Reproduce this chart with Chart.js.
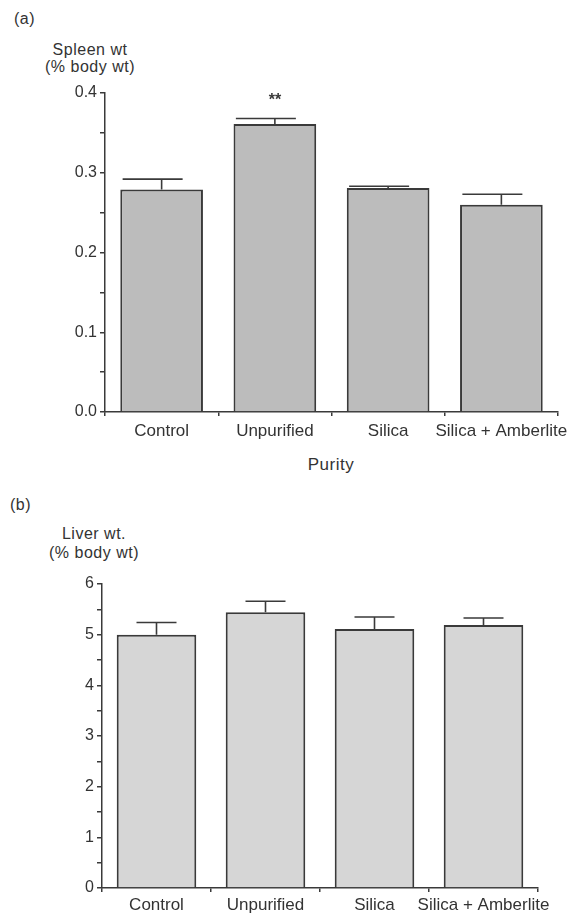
<!DOCTYPE html>
<html lang="en">
<head>
    <meta charset="UTF-8">
    <title>Spleen and liver weight by purity</title>
    <script src="https://cdn.jsdelivr.net/npm/chart.js"></script>
    <style>
        body {
            margin: 0;
            width: 588px;
            height: 915px;
            background: #fff;
            font-family: "Liberation Sans", Arial, sans-serif;
            color: #333;
            position: relative;
            overflow: hidden;
        }
        .lbl { position: absolute; font-size: 16px; line-height: 17px; letter-spacing: 0.5px; text-align: center; white-space: nowrap; }
        .box { position: absolute; left: 0; width: 588px; }
    </style>
</head>
<body>
    <div class="lbl" style="left:14px; top:10px;">(a)</div>
    <div class="lbl" style="left:30px; top:41px; width:120px;">Spleen wt<br>(% body wt)</div>
    <div class="box" style="top:80px; height:360px;"><canvas id="spleenChart"></canvas></div>
    <div class="lbl" style="left:271px; top:456px; width:120px; font-size:17px;">Purity</div>

    <div class="lbl" style="left:10px; top:496px;">(b)</div>
    <div class="lbl" style="left:34px; top:524px; width:120px; line-height:19px;">Liver wt.<br>(% body wt)</div>
    <div class="box" style="top:570px; height:345px;"><canvas id="liverChart"></canvas></div>

    <script>
        const categories = ['Control', 'Unpurified', 'Silica', 'Silica + Amberlite'];
        const spleenValues = [0.279, 0.361, 0.281, 0.260];
        const spleenSem = [0.013, 0.007, 0.002, 0.013];
        const spleenMarks = ['', '**', '', ''];
        const spleenTicks = [0.0, 0.1, 0.2, 0.3, 0.4];
        const liverValues = [5.00, 5.44, 5.11, 5.19];
        const liverSem = [0.24, 0.22, 0.24, 0.14];
        const liverTicks = [0, 1, 2, 3, 4, 5, 6];

        const ink = '#3a3a3a';
        const family = '"Liberation Sans", Arial, sans-serif';

        // draws the SEM whiskers and significance marks from the chart's own scales
        const errorBars = {
            id: 'errorBars',
            afterDatasetsDraw(chart, args, opts) {
                const ctx = chart.ctx;
                const y = chart.scales.y;
                const meta = chart.getDatasetMeta(0);
                ctx.save();
                ctx.strokeStyle = ink;
                ctx.lineWidth = 1.6;
                meta.data.forEach((bar, i) => {
                    const top = y.getPixelForValue(opts.values[i] + opts.sem[i]);
                    const cx = bar.x + opts.capShift;
                    ctx.beginPath();
                    ctx.moveTo(bar.x, bar.y);
                    ctx.lineTo(bar.x, top);
                    ctx.moveTo(cx - opts.capWidth / 2, top);
                    ctx.lineTo(cx + opts.capWidth / 2, top);
                    ctx.stroke();
                    if (opts.marks && opts.marks[i]) {
                        ctx.fillStyle = ink;
                        ctx.font = 'bold 16px ' + family;
                        ctx.textAlign = 'center';
                        ctx.textBaseline = 'middle';
                        ctx.fillText(opts.marks[i], bar.x, top - 18);
                    }
                });
                ctx.restore();
            }
        };

        function makeChart(id, values, sem, marks, ticks, step, fill, pad, yWidth, xHeight, xPad, capWidth, capShift) {
            const max = ticks[ticks.length - 1];
            new Chart(document.getElementById(id), {
                type: 'bar',
                data: {
                    labels: categories,
                    datasets: [{
                        data: values,
                        backgroundColor: fill,
                        borderColor: ink,
                        borderWidth: 2,
                        borderSkipped: 'bottom',
                        categoryPercentage: 1,
                        barPercentage: 0.73
                    }]
                },
                plugins: [errorBars],
                options: {
                    responsive: true,
                    maintainAspectRatio: false,
                    animation: false,
                    layout: { padding: pad },
                    plugins: {
                        legend: { display: false },
                        tooltip: { enabled: false },
                        errorBars: { values, sem, marks, capWidth, capShift }
                    },
                    scales: {
                        x: {
                            afterFit: s => { s.height = xHeight; },
                            grid: { offset: true, drawOnChartArea: false, tickLength: 4, color: ink, lineWidth: 1.5 },
                            border: { color: ink, width: 1.5 },
                            ticks: { color: '#333', font: { size: 17, family }, padding: xPad, maxRotation: 0, autoSkip: false }
                        },
                        y: {
                            min: 0,
                            max: max,
                            afterFit: s => { s.width = yWidth; },
                            grid: { drawOnChartArea: false, tickLength: 5, color: ink, lineWidth: 1.5 },
                            border: { color: ink, width: 1.5 },
                            ticks: {
                                stepSize: step,
                                color: '#333',
                                padding: 3,
                                font: { size: 16, family },
                                callback: v => {
                                    const hit = ticks.find(t => Math.abs(t - v) < 1e-6);
                                    if (hit === undefined) return '';
                                    return step < 0.1 ? hit.toFixed(1) : String(hit);
                                }
                            }
                        }
                    }
                }
            });
        }

        makeChart('spleenChart', spleenValues, spleenSem, spleenMarks, spleenTicks, 0.05, '#bcbcbc',
            { top: 13, right: 30, bottom: 0, left: 0 }, 105, 28, 5, 60, -9);
        makeChart('liverChart', liverValues, liverSem, null, liverTicks, 0.5, '#d6d6d6',
            { top: 14, right: 50, bottom: 0, left: 0 }, 102, 27, 3, 40, 0);
    </script>
</body>
</html>
